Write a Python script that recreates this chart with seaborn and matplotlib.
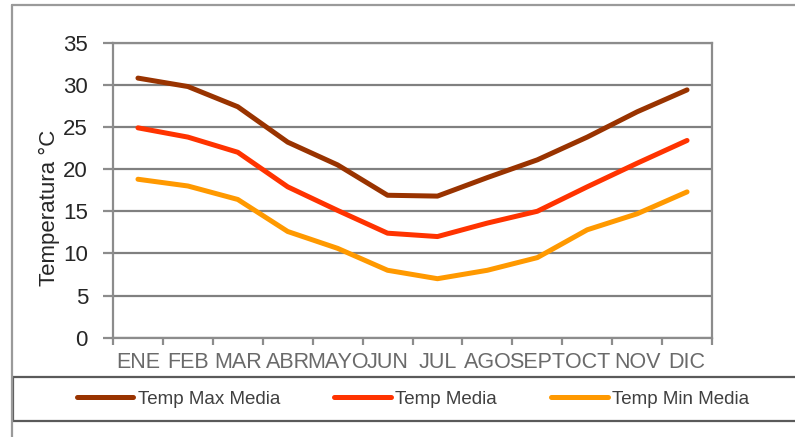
import numpy as np
import pandas as pd
import matplotlib
matplotlib.use("Agg")
import matplotlib.pyplot as plt
from matplotlib.lines import Line2D
from matplotlib.patches import Rectangle
import seaborn as sns

# Datos
meses = ["ENE", "FEB", "MAR", "ABR", "MAYO", "JUN", "JUL", "AGO", "SEPT", "OCT", "NOV", "DIC"]
temp_max = [30.8, 29.8, 27.4, 23.2, 20.5, 16.9, 16.8, 19.0, 21.1, 23.8, 26.8, 29.4]
temp_media = [24.9, 23.8, 22.0, 17.9, 15.1, 12.4, 12.0, 13.6, 15.0, 17.9, 20.7, 23.4]
temp_min = [18.8, 18.0, 16.4, 12.6, 10.6, 8.0, 7.0, 8.0, 9.5, 12.8, 14.7, 17.3]

series = ["Temp Max Media", "Temp Media", "Temp Min Media"]
colores = ["#993300", "#FF3300", "#FF9900"]

df = pd.DataFrame({
    "mes": meses * 3,
    "temp": temp_max + temp_media + temp_min,
    "serie": np.repeat(series, len(meses)),
})

sns.set_style("white")
plt.rcParams["font.family"] = ["Liberation Sans", "DejaVu Sans"]

fig = plt.figure(figsize=(7.95, 4.37), dpi=100)
ax = fig.add_axes([113 / 795, 99.3 / 437, 599 / 795, 295 / 437])

sns.lineplot(
    data=df, x="mes", y="temp", hue="serie", palette=colores,
    sort=False, lw=3.6, ax=ax, legend=False,
)
for ln in ax.get_lines():
    ln.set_solid_capstyle("round")
    ln.set_solid_joinstyle("round")

ax.set_xlim(-0.5, len(meses) - 0.5)
ax.set_ylim(0, 35)
ax.set_yticks(range(0, 36, 5))
ax.yaxis.grid(True, color="#808080", lw=1.6)
ax.set_axisbelow(True)
for s in ax.spines.values():
    s.set_color("#8c8c8c")
    s.set_linewidth(1.6)

ax.set_xticks(range(len(meses)))
ax.set_xticklabels(meses)
ax.set_xticks(np.arange(-0.5, len(meses), 1), minor=True)
ax.tick_params(axis="x", which="major", length=0, pad=10, labelsize=15.5, labelcolor="#6a6a6a")
ax.tick_params(axis="x", which="minor", length=5, width=1.6, color="#8c8c8c", bottom=True)
ax.tick_params(axis="y", length=7, width=1.6, color="#8c8c8c", pad=11, labelsize=16,
               labelcolor="#262626", left=True)
ax.set_xlabel("")
ax.set_ylabel("")

fig.text(49 / 795, 1 - 208 / 437, "Temperatura °C", rotation=90, ha="center", va="center",
         fontsize=16, color="#262626")

# Marco exterior y caja de leyenda
fig.add_artist(Line2D([12 / 795, 12 / 795], [0, 1 - 5 / 437], color="#9a9a9a", lw=1.6,
                      transform=fig.transFigure))
fig.add_artist(Line2D([12 / 795, 1], [1 - 5 / 437, 1 - 5 / 437], color="#9a9a9a", lw=1.6,
                      transform=fig.transFigure))
fig.add_artist(Rectangle((13 / 795, 1 - 421 / 437), 800 / 795, 44.3 / 437,
                         transform=fig.transFigure, fill=False, ec="#5a5a5a", lw=1.6))

handles = [Line2D([0], [0], color=c, lw=3.6, solid_capstyle="round") for c in colores]
leg = fig.legend(
    handles, series, ncol=3, loc="center", bbox_to_anchor=(413 / 795, 1 - 399 / 437),
    frameon=False, fontsize=13.5, handlelength=3.0, handletextpad=0.25, columnspacing=2.9,
)
for t in leg.get_texts():
    t.set_color("#404040")

plt.savefig("out.png", dpi=100)
plt.close()
